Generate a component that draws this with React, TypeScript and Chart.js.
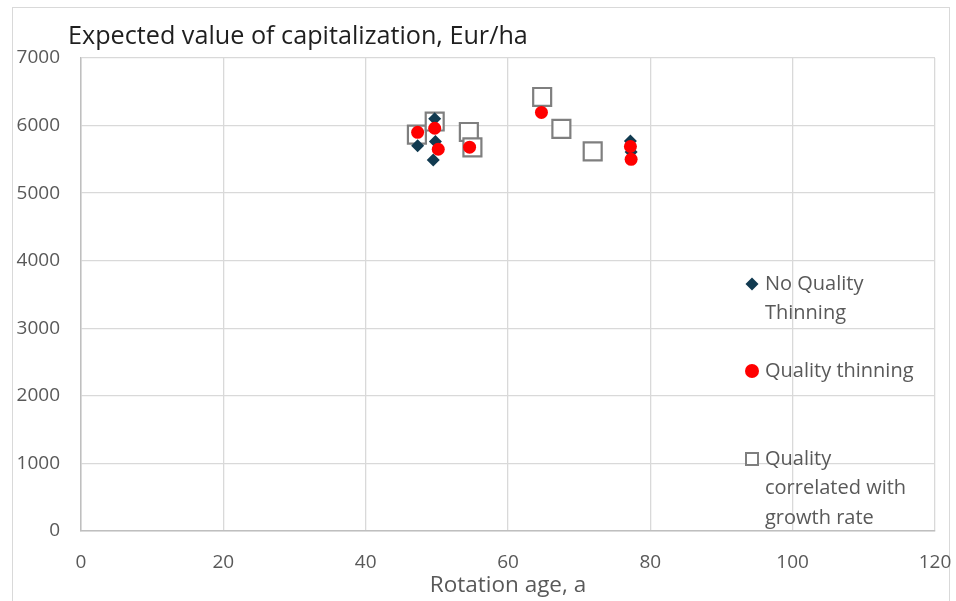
import React, { useEffect, useRef } from "react";
import { Chart, registerables } from "chart.js";

Chart.register(...registerables);

const chartTitle = "Expected value of capitalization, Eur/ha";
const xAxisTitle = "Rotation age, a";

const xTicks = [0, 20, 40, 60, 80, 100, 120];
const yTicks = [0, 1000, 2000, 3000, 4000, 5000, 6000, 7000];

const seriesNames = ["No Quality Thinning", "Quality thinning", "Quality correlated with growth rate"];
const legendLines = [["No Quality", "Thinning"], ["Quality thinning"], ["Quality", "correlated with", "growth rate"]];

const noQualityX = [47.3, 49.7, 49.8, 49.5, 77.2, 77.3];
const noQualityY = [5700, 6100, 5765, 5490, 5770, 5610];

const qualityX = [47.3, 49.7, 50.2, 54.6, 64.7, 77.2, 77.3];
const qualityY = [5900, 5960, 5650, 5680, 6195, 5690, 5500];

const correlatedX = [47.2, 49.7, 54.5, 55.0, 64.8, 67.5, 71.9];
const correlatedY = [5865, 6060, 5905, 5678, 6423, 5950, 5618];

const toPoints = (xs: number[], ys: number[]) => xs.map((x, i) => ({ x, y: ys[i] }));

const FONT = "'Open Sans', sans-serif";

const overlayPlugin = {
  id: "overlay",
  beforeDraw(chart: any) {
    const ctx = chart.ctx;
    ctx.save();
    ctx.fillStyle = "#ffffff";
    ctx.fillRect(0, 0, chart.width, chart.height);
    ctx.strokeStyle = "#d9d9d9";
    ctx.lineWidth = 1;
    ctx.strokeRect(12.5, 7.5, 937, 600);
    ctx.restore();
  },
  afterDraw(chart: any) {
    const ctx = chart.ctx;
    const area = chart.chartArea;
    ctx.save();
    // title
    ctx.fillStyle = "#1f1f1f";
    ctx.font = `25.2px ${FONT}`;
    ctx.textBaseline = "middle";
    ctx.textAlign = "left";
    ctx.fillText(chartTitle, area.left - 13, 37);

    // legend
    const mx = 752;
    const tx = 765;
    const lh = 29.5;
    const starts = [284, 371, 459];
    ctx.font = `20px ${FONT}`;
    ctx.fillStyle = "#595959";
    legendLines.forEach((lines, i) => {
      lines.forEach((t, j) => ctx.fillText(t, tx, starts[i] + j * lh));
    });
    // markers
    const y0 = starts[0];
    ctx.fillStyle = "#113A50";
    ctx.beginPath();
    ctx.moveTo(mx, y0 - 6.5);
    ctx.lineTo(mx + 6.5, y0);
    ctx.lineTo(mx, y0 + 6.5);
    ctx.lineTo(mx - 6.5, y0);
    ctx.closePath();
    ctx.fill();
    ctx.fillStyle = "#ff0000";
    ctx.beginPath();
    ctx.arc(mx, starts[1], 7, 0, Math.PI * 2);
    ctx.fill();
    ctx.strokeStyle = "#7f7f7f";
    ctx.lineWidth = 2;
    ctx.fillStyle = "#ffffff";
    ctx.fillRect(mx - 6, starts[2] - 6, 12, 12);
    ctx.strokeRect(mx - 6, starts[2] - 6, 12, 12);
    ctx.restore();
  },
};

export default function App() {
  const ref = useRef<HTMLCanvasElement | null>(null);
  useEffect(() => {
    if (!ref.current) return;
    const chart = new Chart(ref.current, {
      type: "scatter",
      data: {
        datasets: [
          {
            label: seriesNames[0],
            data: toPoints(noQualityX, noQualityY),
            pointStyle: "rectRot",
            pointRadius: 6.5,
            backgroundColor: "#113A50",
            borderColor: "#113A50",
            borderWidth: 0,
            order: 2,
          },
          {
            label: seriesNames[1],
            data: toPoints(qualityX, qualityY),
            pointStyle: "circle",
            pointRadius: 6.5,
            backgroundColor: "#ff0000",
            borderColor: "#ff0000",
            borderWidth: 0,
            order: 1,
          },
          {
            label: seriesNames[2],
            data: toPoints(correlatedX, correlatedY),
            pointStyle: "rect",
            pointRadius: 12.7,
            backgroundColor: "#ffffff",
            borderColor: "#7f7f7f",
            borderWidth: 2.2,
            order: 3,
          },
        ],
      },
      options: {
        animation: false,
        responsive: true,
        maintainAspectRatio: false,
        layout: { padding: { left: 12, top: 58, right: 21, bottom: 0 } },
        plugins: {
          legend: { display: false },
          tooltip: { enabled: false },
          title: { display: false },
        },
        scales: {
          x: {
            type: "linear",
            min: xTicks[0],
            max: xTicks[xTicks.length - 1],
            afterBuildTicks: (s: any) => {
              s.ticks = xTicks.map((v) => ({ value: v }));
            },
            afterFit: (s: any) => {
              s.height = 70;
              s.paddingLeft = 0;
              s.paddingRight = 0;
            },
            grid: { color: "#d9d9d9", lineWidth: 1.3, drawTicks: false },
            border: { color: "#bfbfbf", width: 1.5 },
            ticks: {
              padding: 20,
              color: "#595959",
              font: { family: FONT, size: 19 },
              callback: (v: any) => String(v),
            },
            title: {
              display: true,
              text: xAxisTitle,
              color: "#595959",
              font: { family: FONT, size: 22.5 },
              padding: { top: 0, bottom: 1.5 },
            },
          },
          y: {
            type: "linear",
            min: yTicks[0],
            max: yTicks[yTicks.length - 1],
            afterBuildTicks: (s: any) => {
              s.ticks = yTicks.map((v) => ({ value: v }));
            },
            afterFit: (s: any) => {
              s.width = 69;
              s.paddingTop = 0;
              s.paddingBottom = 0;
            },
            grid: { color: "#d9d9d9", lineWidth: 1.3, drawTicks: false },
            border: { color: "#bfbfbf", width: 1.5 },
            ticks: {
              padding: 21,
              color: "#595959",
              font: { family: FONT, size: 19 },
              callback: (v: any) => String(v),
            },
          },
        },
      },
      plugins: [overlayPlugin],
    });
    return () => chart.destroy();
  }, []);
  return (
    <div style={{ position: "absolute", left: 0, top: 0, width: 956, height: 601 }}>
      <canvas ref={ref} />
    </div>
  );
}
